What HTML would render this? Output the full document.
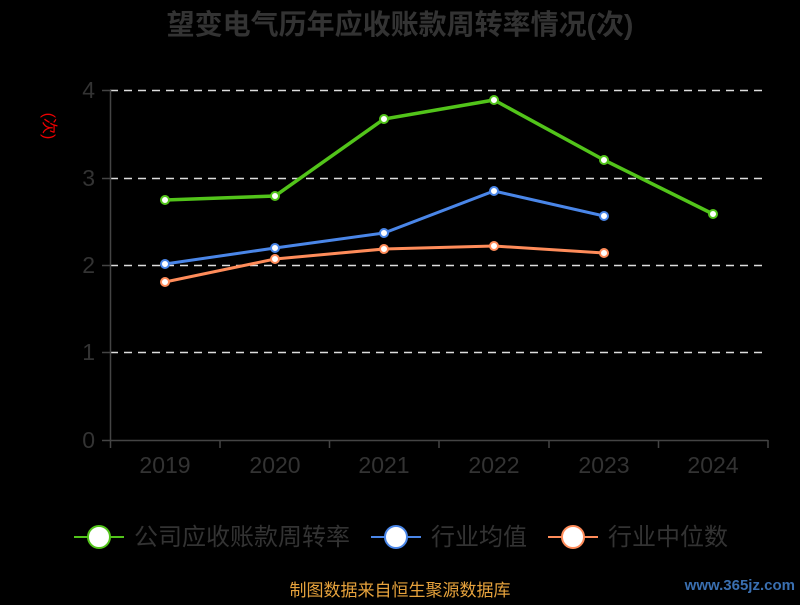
<!DOCTYPE html>
<html><head><meta charset="utf-8"><style>
body{margin:0;background:#000;width:800px;height:600px;overflow:hidden}
text{font-family:"Liberation Sans","Noto Sans CJK SC",sans-serif}
</style></head><body>
<svg width="800" height="600" xmlns="http://www.w3.org/2000/svg">
<rect width="800" height="600" fill="#000"/>
<text x="400" y="34" text-anchor="middle" font-size="28" font-weight="bold" fill="#333">望变电气历年应收账款周转率情况(次)</text>
<g stroke="#ddd" stroke-width="1.5" stroke-dasharray="8,6">
<line x1="110" y1="90.5" x2="768" y2="90.5"/>
<line x1="110" y1="178.5" x2="768" y2="178.5"/>
<line x1="110" y1="265.5" x2="768" y2="265.5"/>
<line x1="110" y1="352.5" x2="768" y2="352.5"/>
</g>
<g stroke="#444" stroke-width="1.5">
<line x1="110.5" y1="90" x2="110.5" y2="440"/>
<line x1="110" y1="440.5" x2="768" y2="440.5"/>
<line x1="102" y1="90.5" x2="110" y2="90.5"/><line x1="102" y1="178.5" x2="110" y2="178.5"/>
<line x1="102" y1="265.5" x2="110" y2="265.5"/><line x1="102" y1="352.5" x2="110" y2="352.5"/>
<line x1="102" y1="440.5" x2="110" y2="440.5"/>
<line x1="110.5" y1="440" x2="110.5" y2="448"/><line x1="220" y1="440" x2="220" y2="448"/>
<line x1="329.5" y1="440" x2="329.5" y2="448"/><line x1="439" y1="440" x2="439" y2="448"/>
<line x1="549" y1="440" x2="549" y2="448"/><line x1="658.5" y1="440" x2="658.5" y2="448"/>
<line x1="768" y1="440" x2="768" y2="448"/>
</g>
<g font-size="23" fill="#333" text-anchor="end">
<text x="95" y="98">4</text><text x="95" y="186">3</text><text x="95" y="273">2</text><text x="95" y="360">1</text><text x="95" y="448">0</text>
</g>
<g font-size="23" fill="#333" text-anchor="middle">
<text x="165" y="473">2019</text><text x="275" y="473">2020</text><text x="384" y="473">2021</text>
<text x="494" y="473">2022</text><text x="604" y="473">2023</text><text x="713" y="473">2024</text>
</g>
<text transform="translate(44,126) rotate(90)" text-anchor="middle" font-size="16" fill="#e00">(次)</text>
<polyline fill="none" stroke="#52c41a" stroke-width="3.5" points="165,200 275,196 384,119 494,100 604,160 713,214"/>
<polyline fill="none" stroke="#4a86e8" stroke-width="3" points="165,264 275,248 384,233 494,191 604,216"/>
<polyline fill="none" stroke="#ff8c5a" stroke-width="3" points="165,282 275,259 384,249 494,246 604,253"/>
<g fill="#fff" stroke="#52c41a" stroke-width="2">
<circle cx="165" cy="200" r="4"/><circle cx="275" cy="196" r="4"/><circle cx="384" cy="119" r="4"/><circle cx="494" cy="100" r="4"/><circle cx="604" cy="160" r="4"/><circle cx="713" cy="214" r="4"/></g>
<g fill="#fff" stroke="#4a86e8" stroke-width="2">
<circle cx="165" cy="264" r="4"/><circle cx="275" cy="248" r="4"/><circle cx="384" cy="233" r="4"/><circle cx="494" cy="191" r="4"/><circle cx="604" cy="216" r="4"/></g>
<g fill="#fff" stroke="#ff8c5a" stroke-width="2">
<circle cx="165" cy="282" r="4"/><circle cx="275" cy="259" r="4"/><circle cx="384" cy="249" r="4"/><circle cx="494" cy="246" r="4"/><circle cx="604" cy="253" r="4"/></g>
<g font-size="24" fill="#333">
<line x1="74" y1="537" x2="124" y2="537" stroke="#52c41a" stroke-width="2"/><circle cx="99" cy="537" r="11" fill="#fff" stroke="#52c41a" stroke-width="2"/>
<text x="134" y="545">公司应收账款周转率</text>
<line x1="371" y1="537" x2="421" y2="537" stroke="#4a86e8" stroke-width="2"/><circle cx="396" cy="537" r="11" fill="#fff" stroke="#4a86e8" stroke-width="2"/>
<text x="431" y="545">行业均值</text>
<line x1="548" y1="537" x2="598" y2="537" stroke="#ff8c5a" stroke-width="2"/><circle cx="573" cy="537" r="11" fill="#fff" stroke="#ff8c5a" stroke-width="2"/>
<text x="608" y="545">行业中位数</text>
</g>
<text x="400" y="596" text-anchor="middle" font-size="17" fill="#e6a23c">制图数据来自恒生聚源数据库</text>
<text x="795" y="590" text-anchor="end" font-size="15" font-weight="bold" fill="#3a6fb0">www.365jz.com</text>
</svg>
</body></html>
